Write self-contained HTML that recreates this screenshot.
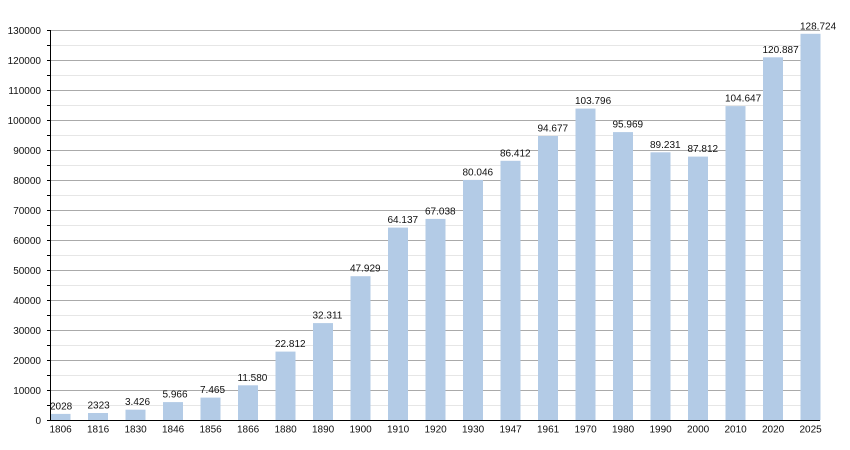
<!DOCTYPE html>
<html><head><meta charset="utf-8"><style>
html,body{margin:0;padding:0;background:#fff;}
svg{display:block;}
text{font-family:"Liberation Sans",Arial,sans-serif;font-size:10px;fill:#111;}
</style></head><body>
<svg width="850" height="450" viewBox="0 0 850 450" xmlns="http://www.w3.org/2000/svg">
<g stroke="#e6e6e6" stroke-width="1">
<line x1="50" x2="820" y1="405.5" y2="405.5"/><line x1="50" x2="820" y1="375.5" y2="375.5"/><line x1="50" x2="820" y1="345.5" y2="345.5"/><line x1="50" x2="820" y1="315.5" y2="315.5"/><line x1="50" x2="820" y1="285.5" y2="285.5"/><line x1="50" x2="820" y1="255.5" y2="255.5"/><line x1="50" x2="820" y1="225.5" y2="225.5"/><line x1="50" x2="820" y1="195.5" y2="195.5"/><line x1="50" x2="820" y1="165.5" y2="165.5"/><line x1="50" x2="820" y1="135.5" y2="135.5"/><line x1="50" x2="820" y1="105.5" y2="105.5"/><line x1="50" x2="820" y1="75.5" y2="75.5"/><line x1="50" x2="820" y1="45.5" y2="45.5"/>
</g>
<g stroke="#aaaaaa" stroke-width="1">
<line x1="50" x2="820" y1="390.5" y2="390.5"/><line x1="50" x2="820" y1="360.5" y2="360.5"/><line x1="50" x2="820" y1="330.5" y2="330.5"/><line x1="50" x2="820" y1="300.5" y2="300.5"/><line x1="50" x2="820" y1="270.5" y2="270.5"/><line x1="50" x2="820" y1="240.5" y2="240.5"/><line x1="50" x2="820" y1="210.5" y2="210.5"/><line x1="50" x2="820" y1="180.5" y2="180.5"/><line x1="50" x2="820" y1="150.5" y2="150.5"/><line x1="50" x2="820" y1="120.5" y2="120.5"/><line x1="50" x2="820" y1="90.5" y2="90.5"/><line x1="50" x2="820" y1="60.5" y2="60.5"/><line x1="50" x2="820" y1="30.5" y2="30.5"/>
</g>
<g fill="#b3cbe6">
<rect x="50.5" y="413.9" width="20" height="6.1"/>
<rect x="88" y="413.0" width="20" height="7.0"/>
<rect x="125.5" y="409.7" width="20" height="10.3"/>
<rect x="163" y="402.1" width="20" height="17.9"/>
<rect x="200.5" y="397.6" width="20" height="22.4"/>
<rect x="238" y="385.3" width="20" height="34.7"/>
<rect x="275.5" y="351.6" width="20" height="68.4"/>
<rect x="313" y="323.1" width="20" height="96.9"/>
<rect x="350.5" y="276.2" width="20" height="143.8"/>
<rect x="388" y="227.6" width="20" height="192.4"/>
<rect x="425.5" y="218.9" width="20" height="201.1"/>
<rect x="463" y="179.9" width="20" height="240.1"/>
<rect x="500.5" y="160.8" width="20" height="259.2"/>
<rect x="538" y="136.0" width="20" height="284.0"/>
<rect x="575.5" y="108.6" width="20" height="311.4"/>
<rect x="613" y="132.1" width="20" height="287.9"/>
<rect x="650.5" y="152.3" width="20" height="267.7"/>
<rect x="688" y="156.6" width="20" height="263.4"/>
<rect x="725.5" y="106.1" width="20" height="313.9"/>
<rect x="763" y="57.3" width="20" height="362.7"/>
<rect x="800.5" y="33.8" width="20" height="386.2"/>
</g>
<g stroke="#000" stroke-width="1">
<line x1="50.5" x2="50.5" y1="30" y2="420.5"/>
<line x1="50" x2="820" y1="420.5" y2="420.5"/>
<line x1="47" x2="50" y1="30.5" y2="30.5"/><line x1="47" x2="50" y1="45.5" y2="45.5"/><line x1="47" x2="50" y1="60.5" y2="60.5"/><line x1="47" x2="50" y1="75.5" y2="75.5"/><line x1="47" x2="50" y1="90.5" y2="90.5"/><line x1="47" x2="50" y1="105.5" y2="105.5"/><line x1="47" x2="50" y1="120.5" y2="120.5"/><line x1="47" x2="50" y1="135.5" y2="135.5"/><line x1="47" x2="50" y1="150.5" y2="150.5"/><line x1="47" x2="50" y1="165.5" y2="165.5"/><line x1="47" x2="50" y1="180.5" y2="180.5"/><line x1="47" x2="50" y1="195.5" y2="195.5"/><line x1="47" x2="50" y1="210.5" y2="210.5"/><line x1="47" x2="50" y1="225.5" y2="225.5"/><line x1="47" x2="50" y1="240.5" y2="240.5"/><line x1="47" x2="50" y1="255.5" y2="255.5"/><line x1="47" x2="50" y1="270.5" y2="270.5"/><line x1="47" x2="50" y1="285.5" y2="285.5"/><line x1="47" x2="50" y1="300.5" y2="300.5"/><line x1="47" x2="50" y1="315.5" y2="315.5"/><line x1="47" x2="50" y1="330.5" y2="330.5"/><line x1="47" x2="50" y1="345.5" y2="345.5"/><line x1="47" x2="50" y1="360.5" y2="360.5"/><line x1="47" x2="50" y1="375.5" y2="375.5"/><line x1="47" x2="50" y1="390.5" y2="390.5"/><line x1="47" x2="50" y1="405.5" y2="405.5"/><line x1="47" x2="50" y1="420.5" y2="420.5"/>
</g>
<g text-anchor="end">
<text x="41" y="34.1">130000</text>
<text x="41" y="64.1">120000</text>
<text x="41" y="94.1">110000</text>
<text x="41" y="124.1">100000</text>
<text x="41" y="154.1">90000</text>
<text x="41" y="184.1">80000</text>
<text x="41" y="214.1">70000</text>
<text x="41" y="244.1">60000</text>
<text x="41" y="274.1">50000</text>
<text x="41" y="304.1">40000</text>
<text x="41" y="334.1">30000</text>
<text x="41" y="364.1">20000</text>
<text x="41" y="394.1">10000</text>
<text x="41" y="424.1">0</text>
</g>
<g>
<text x="49.5" y="432.5">1806</text>
<text x="87" y="432.5">1816</text>
<text x="124.5" y="432.5">1830</text>
<text x="162" y="432.5">1846</text>
<text x="199.5" y="432.5">1856</text>
<text x="237" y="432.5">1866</text>
<text x="274.5" y="432.5">1880</text>
<text x="312" y="432.5">1890</text>
<text x="349.5" y="432.5">1900</text>
<text x="387" y="432.5">1910</text>
<text x="424.5" y="432.5">1920</text>
<text x="462" y="432.5">1930</text>
<text x="499.5" y="432.5">1947</text>
<text x="537" y="432.5">1961</text>
<text x="574.5" y="432.5">1970</text>
<text x="612" y="432.5">1980</text>
<text x="649.5" y="432.5">1990</text>
<text x="687" y="432.5">2000</text>
<text x="724.5" y="432.5">2010</text>
<text x="762" y="432.5">2020</text>
<text x="799.5" y="432.5">2025</text>
</g>
<g>
<text x="50" y="409.4">2028</text>
<text x="87.5" y="408.5">2323</text>
<text x="125" y="405.2">3.426</text>
<text x="162.5" y="397.6">5.966</text>
<text x="200" y="393.1">7.465</text>
<text x="237.5" y="380.8">11.580</text>
<text x="275" y="347.1">22.812</text>
<text x="312.5" y="318.6">32.311</text>
<text x="350" y="271.7">47.929</text>
<text x="387.5" y="223.1">64.137</text>
<text x="425" y="214.4">67.038</text>
<text x="462.5" y="175.4">80.046</text>
<text x="500" y="156.3">86.412</text>
<text x="537.5" y="131.5">94.677</text>
<text x="575" y="104.1">103.796</text>
<text x="612.5" y="127.6">95.969</text>
<text x="650" y="147.8">89.231</text>
<text x="687.5" y="152.1">87.812</text>
<text x="725" y="101.6">104.647</text>
<text x="762.5" y="52.8">120.887</text>
<text x="800" y="29.3">128.724</text>
</g>
</svg>
</body></html>
